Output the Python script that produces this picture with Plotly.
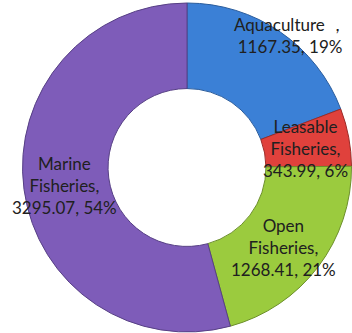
import plotly.graph_objects as go

# Fishery output by sector (value, share)
sectors = ["Aquaculture", "Leasable Fisheries", "Open Fisheries", "Marine Fisheries"]
values = [1167.35, 343.99, 1268.41, 3295.07]
label_text = [
    "Aquaculture ，<br>1167.35, 19%",
    "Leasable<br>Fisheries,<br>343.99, 6%",
    "Open<br>Fisheries,<br>1268.41, 21%",
    "Marine<br>Fisheries,<br>3295.07, 54%",
]
# label anchor points (paper fractions) for each sector's data label
label_x = [0.824, 0.869, 0.806, 0.182]
label_y = [0.893, 0.555, 0.258, 0.443]

fill_colors = ["#3b80d6", "#e0413c", "#9bcb3e", "#7e5cb9"]
edge_colors = ["#2a5c9c", "#9c2a26", "#6c8f2a", "#574085"]

fig = go.Figure(
    go.Pie(
        labels=sectors,
        values=values,
        textinfo="none",
        hole=0.48,
        sort=False,
        direction="clockwise",
        rotation=0,
        marker=dict(colors=fill_colors, line=dict(color=edge_colors, width=1)),
        domain=dict(x=[0.064, 0.9986], y=[0.003, 0.991]),
        showlegend=False,
    )
)

for txt, x, y in zip(label_text, label_x, label_y):
    fig.add_annotation(
        text=txt, x=x, y=y, xref="paper", yref="paper",
        xanchor="center", yanchor="middle", showarrow=False, align="center",
        font=dict(family="Lato", size=17, color="#202020"),
    )

fig.update_layout(
    width=352,
    height=333,
    margin=dict(l=0, r=0, t=0, b=0),
    paper_bgcolor="white",
    plot_bgcolor="white",
)

fig.write_html("out.html")
